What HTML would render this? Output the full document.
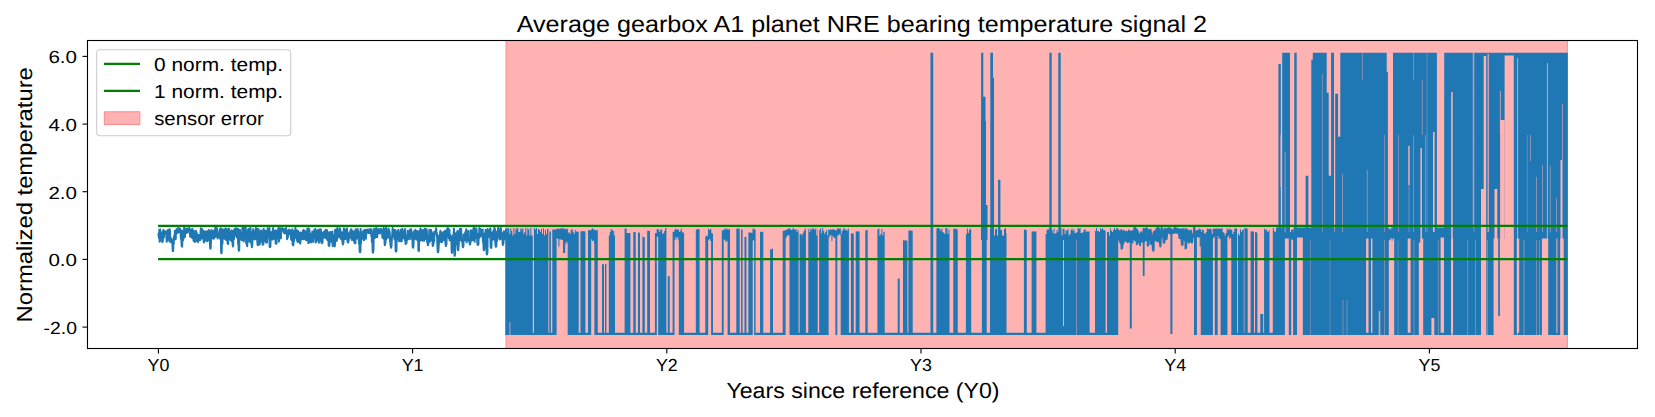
<!DOCTYPE html>
<html><head><meta charset="utf-8"><title>chart</title>
<style>html,body{margin:0;padding:0;background:#fff;}svg{display:block;}text{font-family:"Liberation Sans",sans-serif;fill:#000;text-rendering:geometricPrecision;}</style></head><body>
<svg width="1655" height="417" viewBox="0 0 1655 417">
<rect width="1655" height="417" fill="#fff"/>
<rect x="506" y="40.5" width="1061.8" height="308" fill="#ffb2b2"/>
<rect x="505.5" y="40.5" width="1" height="308" fill="#ff8f8f"/>
<rect x="1566.9" y="40.5" width="1" height="308" fill="#ff8f8f"/>
<path d="M158.40,233.2 L158.65,234.9 L158.90,237.7 L159.15,232.3 L159.40,229.9 L159.65,241.7 L159.90,229.5 L160.15,229.3 L160.40,235.5 L160.65,235.4 L160.90,234.1 L161.15,240.3 L161.40,232.9 L161.65,232.5 L161.90,240.1 L162.15,241.8 L162.40,241 L162.65,241.8 L162.90,239 L163.15,230.5 L163.40,230.1 L163.65,231 L163.90,237.5 L164.15,233.1 L164.40,231.9 L164.65,232.6 L164.90,233.4 L165.15,233.6 L165.40,231.2 L165.65,233.1 L165.90,233.9 L166.15,232.1 L166.40,235 L166.65,241.8 L166.90,231.4 L167.15,240.3 L167.40,238.3 L167.65,231.2 L167.90,235 L168.15,229.8 L168.40,232.8 L168.65,236.7 L168.90,230 L169.15,236.3 L169.40,241.1 L169.65,229.2 L169.90,231.1 L170.15,236.5 L170.40,241.7 L170.65,238.4 L170.90,242.1 L171.15,241.1 L171.40,238.9 L171.65,242.2 L171.90,241.4 L172.15,240.3 L172.40,241.8 L172.65,249.4 L172.90,251 L173.15,250.4 L173.40,241.4 L173.65,244.1 L173.90,237.1 L174.15,239.1 L174.40,235.7 L174.65,237.1 L174.90,230.8 L175.15,237.8 L175.40,236 L175.65,239.2 L175.90,233.1 L176.15,233 L176.40,229.7 L176.65,230.7 L176.90,233.2 L177.15,228.9 L177.40,230.3 L177.65,230.7 L177.90,230.5 L178.15,228.2 L178.40,231.1 L178.65,232.4 L178.90,228.1 L179.15,229.3 L179.40,230.5 L179.65,231.6 L179.90,229.1 L180.15,229 L180.40,229 L180.65,232.7 L180.90,237.6 L181.15,239.3 L181.40,239.5 L181.65,245.3 L181.90,246.3 L182.15,246.6 L182.40,230.9 L182.65,240.7 L182.90,240.5 L183.15,240 L183.40,237.7 L183.65,230.8 L183.90,236.6 L184.15,227.9 L184.40,229.8 L184.65,237.2 L184.90,236.6 L185.15,231.8 L185.40,228.5 L185.65,230.9 L185.90,230.9 L186.15,231.1 L186.40,233 L186.65,232.7 L186.90,229.1 L187.15,230.8 L187.40,230.8 L187.65,232.4 L187.90,228.4 L188.15,230.3 L188.40,230.6 L188.65,230.4 L188.90,229.7 L189.15,231.4 L189.40,228.1 L189.65,229.2 L189.90,231.4 L190.15,236.6 L190.40,230.5 L190.65,233.9 L190.90,230.1 L191.15,236.3 L191.40,235.6 L191.65,230.4 L191.90,231.4 L192.15,237.9 L192.40,228.7 L192.65,238 L192.90,234.2 L193.15,230.7 L193.40,238.3 L193.65,240.8 L193.90,235.5 L194.15,232 L194.40,237.8 L194.65,231.5 L194.90,241.9 L195.15,231.1 L195.40,240.5 L195.65,237.1 L195.90,230.7 L196.15,240.6 L196.40,235.3 L196.65,232.7 L196.90,240.3 L197.15,240.8 L197.40,235.9 L197.65,241.5 L197.90,242.1 L198.15,241 L198.40,240.3 L198.65,234.9 L198.90,235.5 L199.15,239 L199.40,237.2 L199.65,236.8 L199.90,240.3 L200.15,236.4 L200.40,239.7 L200.65,231.4 L200.90,228.2 L201.15,238.3 L201.40,233.6 L201.65,234.4 L201.90,236.1 L202.15,229.4 L202.40,234 L202.65,238.3 L202.90,231.2 L203.15,235.6 L203.40,230.9 L203.65,240.1 L203.90,242.4 L204.15,240.1 L204.40,240.5 L204.65,235.1 L204.90,241 L205.15,235.1 L205.40,231.6 L205.65,235.5 L205.90,231.4 L206.15,238.1 L206.40,234.5 L206.65,235.9 L206.90,233.5 L207.15,241.3 L207.40,233.7 L207.65,236.4 L207.90,231 L208.15,240.2 L208.40,233 L208.65,236.2 L208.90,230.1 L209.15,236.1 L209.40,231.5 L209.65,239.4 L209.90,241.9 L210.15,247 L210.40,248.6 L210.65,248 L210.90,242.3 L211.15,235.8 L211.40,230.1 L211.65,236 L211.90,237.7 L212.15,230.9 L212.40,237 L212.65,231.4 L212.90,232.8 L213.15,237.4 L213.40,238.7 L213.65,236.9 L213.90,238.4 L214.15,230.5 L214.40,232.1 L214.65,230.1 L214.90,237.1 L215.15,228.7 L215.40,227.7 L215.65,233.2 L215.90,236.4 L216.15,233.2 L216.40,235.7 L216.65,227.7 L216.90,234.5 L217.15,229.2 L217.40,231.5 L217.65,238.4 L217.90,235.4 L218.15,237.8 L218.40,237 L218.65,237.4 L218.90,234.8 L219.15,237.3 L219.40,236.1 L219.65,231.9 L219.90,231.2 L220.15,228.7 L220.40,239.2 L220.65,229.2 L220.90,228.2 L221.15,251.8 L221.40,253.1 L221.65,252.2 L221.90,235.1 L222.15,244.1 L222.40,243.4 L222.65,235.7 L222.90,229.3 L223.15,238.3 L223.40,231.3 L223.65,236.5 L223.90,232.9 L224.15,237.2 L224.40,232.1 L224.65,238.6 L224.90,230.5 L225.15,229 L225.40,237.7 L225.65,228.3 L225.90,233.2 L226.15,239.9 L226.40,237 L226.65,238 L226.90,234.5 L227.15,230.4 L227.40,229.6 L227.65,243.5 L227.90,243.3 L228.15,244 L228.40,228.7 L228.65,238.4 L228.90,228.5 L229.15,238.9 L229.40,233.8 L229.65,233.5 L229.90,232.5 L230.15,238.7 L230.40,237.9 L230.65,240.2 L230.90,238.5 L231.15,232.4 L231.40,230.3 L231.65,231.6 L231.90,241.3 L232.15,236.5 L232.40,234.8 L232.65,244.4 L232.90,246.4 L233.15,245.4 L233.40,234.3 L233.65,230.3 L233.90,239.3 L234.15,230.7 L234.40,233.1 L234.65,229.3 L234.90,236 L235.15,228.9 L235.40,228.4 L235.65,234.2 L235.90,231.5 L236.15,228.2 L236.40,233.8 L236.65,234 L236.90,237.1 L237.15,229.9 L237.40,231.5 L237.65,238.3 L237.90,228.8 L238.15,244.2 L238.40,241.2 L238.65,249.6 L238.90,250.7 L239.15,250.4 L239.40,233.1 L239.65,233.7 L239.90,229.8 L240.15,236.2 L240.40,237 L240.65,238.1 L240.90,239.2 L241.15,233.2 L241.40,234.3 L241.65,239.9 L241.90,239.9 L242.15,235.7 L242.40,228 L242.65,233.2 L242.90,236.8 L243.15,230.2 L243.40,227.7 L243.65,241.5 L243.90,238.6 L244.15,237.6 L244.40,238.2 L244.65,234.5 L244.90,231.1 L245.15,227.7 L245.40,232.9 L245.65,227.8 L245.90,235.7 L246.15,243 L246.40,242.2 L246.65,244.2 L246.90,244.4 L247.15,246.1 L247.40,242.6 L247.65,230.5 L247.90,241.7 L248.15,230.3 L248.40,229 L248.65,231.2 L248.90,230.2 L249.15,238.2 L249.40,235.2 L249.65,231.7 L249.90,237.5 L250.15,242.2 L250.40,227.7 L250.65,231.6 L250.90,231.7 L251.15,232.1 L251.40,242.4 L251.65,245 L251.90,247.2 L252.15,245.4 L252.40,239.2 L252.65,235.7 L252.90,234.6 L253.15,229.2 L253.40,230.3 L253.65,238 L253.90,234.1 L254.15,235.1 L254.40,237.1 L254.65,239.5 L254.90,234.7 L255.15,231.2 L255.40,235.8 L255.65,239 L255.90,228 L256.15,236.9 L256.40,228.6 L256.65,229.8 L256.90,239.7 L257.15,228.7 L257.40,242.3 L257.65,245 L257.90,244.8 L258.15,245 L258.40,243.4 L258.65,229.3 L258.90,233 L259.15,237.7 L259.40,234.8 L259.65,244.4 L259.90,239.3 L260.15,234.5 L260.40,242.1 L260.65,233.7 L260.90,231.4 L261.15,230.4 L261.40,230.6 L261.65,231.9 L261.90,239.3 L262.15,232.9 L262.40,232.2 L262.65,244.4 L262.90,244.6 L263.15,244.3 L263.40,244.4 L263.65,228.8 L263.90,241.2 L264.15,240.1 L264.40,232 L264.65,238.4 L264.90,236.9 L265.15,239.3 L265.40,230.9 L265.65,233.7 L265.90,242.1 L266.15,233 L266.40,238.8 L266.65,240.7 L266.90,242.7 L267.15,239.2 L267.40,231.7 L267.65,228.4 L267.90,232.3 L268.15,234.3 L268.40,234 L268.65,237.3 L268.90,233.7 L269.15,236.5 L269.40,228 L269.65,246.2 L269.90,247.1 L270.15,246.9 L270.40,246.1 L270.65,232.3 L270.90,237 L271.15,233 L271.40,235.8 L271.65,232.6 L271.90,239.5 L272.15,238 L272.40,231 L272.65,239.4 L272.90,236 L273.15,228 L273.40,233.5 L273.65,234.1 L273.90,238.8 L274.15,230.8 L274.40,235.6 L274.65,238.6 L274.90,233.5 L275.15,232.2 L275.40,230.5 L275.65,243.4 L275.90,243.2 L276.15,243.2 L276.40,243.7 L276.65,230.6 L276.90,232.1 L277.15,237.9 L277.40,236.2 L277.65,232.1 L277.90,235 L278.15,235.7 L278.40,228 L278.65,234.7 L278.90,241.6 L279.15,228.8 L279.40,231.9 L279.65,238.7 L279.90,228 L280.15,236.8 L280.40,228.4 L280.65,234 L280.90,238.1 L281.15,230.2 L281.40,230.1 L281.65,231 L281.90,228.6 L282.15,229.4 L282.40,228.1 L282.65,228.8 L282.90,230.7 L283.15,229.4 L283.40,229.7 L283.65,229 L283.90,232.8 L284.15,230.3 L284.40,231 L284.65,231.4 L284.90,233.5 L285.15,232.6 L285.40,228.7 L285.65,230 L285.90,228.1 L286.15,233.3 L286.40,232.4 L286.65,230.2 L286.90,233.4 L287.15,239.1 L287.40,237.9 L287.65,230.9 L287.90,237 L288.15,235.3 L288.40,231.2 L288.65,231.7 L288.90,234.4 L289.15,229.5 L289.40,232.9 L289.65,234.1 L289.90,230.1 L290.15,232.2 L290.40,233.5 L290.65,230.6 L290.90,230.6 L291.15,239.4 L291.40,239.8 L291.65,235.8 L291.90,235.4 L292.15,239.9 L292.40,229.4 L292.65,244.6 L292.90,244.9 L293.15,245.3 L293.40,244.3 L293.65,236.4 L293.90,241.5 L294.15,231 L294.40,237.5 L294.65,238.7 L294.90,234.5 L295.15,236.9 L295.40,227.8 L295.65,235.3 L295.90,233.2 L296.15,230.2 L296.40,234.4 L296.65,234.5 L296.90,237.9 L297.15,240.6 L297.40,230.6 L297.65,242 L297.90,233.8 L298.15,236.3 L298.40,231.4 L298.65,239.5 L298.90,233.9 L299.15,232.9 L299.40,237.8 L299.65,242.2 L299.90,242.3 L300.15,243.4 L300.40,242.8 L300.65,232.5 L300.90,235.7 L301.15,237.7 L301.40,238.7 L301.65,236.2 L301.90,238.4 L302.15,238.9 L302.40,232.9 L302.65,235 L302.90,230.9 L303.15,239.3 L303.40,230.4 L303.65,229.9 L303.90,232.8 L304.15,238.7 L304.40,238.7 L304.65,231.8 L304.90,231 L305.15,239.2 L305.40,232.8 L305.65,232.3 L305.90,240 L306.15,232.2 L306.40,240.1 L306.65,232.8 L306.90,238.7 L307.15,231.7 L307.40,228.6 L307.65,236 L307.90,237.4 L308.15,236.4 L308.40,243.3 L308.65,228.2 L308.90,228.8 L309.15,231.8 L309.40,229.6 L309.65,241.8 L309.90,242.1 L310.15,241.5 L310.40,242.2 L310.65,239.4 L310.90,233.9 L311.15,240.6 L311.40,242.2 L311.65,238.9 L311.90,234.6 L312.15,238.6 L312.40,231.6 L312.65,231.6 L312.90,238.6 L313.15,241.7 L313.40,234.2 L313.65,238.1 L313.90,234.7 L314.15,234.6 L314.40,229.8 L314.65,235.8 L314.90,233.2 L315.15,234.8 L315.40,229 L315.65,242.5 L315.90,242 L316.15,241.9 L316.40,241.4 L316.65,236.7 L316.90,233.3 L317.15,239.6 L317.40,232.2 L317.65,230.2 L317.90,234 L318.15,239.6 L318.40,230.2 L318.65,236.1 L318.90,242.8 L319.15,229.5 L319.40,241.4 L319.65,229.5 L319.90,233.3 L320.15,233.4 L320.40,229.3 L320.65,239 L320.90,229.8 L321.15,240.4 L321.40,233.1 L321.65,243.1 L321.90,242.1 L322.15,242.9 L322.40,242.8 L322.65,238.6 L322.90,235.3 L323.15,232.3 L323.40,234.7 L323.65,235.8 L323.90,234.9 L324.15,232.5 L324.40,237.3 L324.65,231.1 L324.90,237.7 L325.15,236.8 L325.40,233.3 L325.65,230 L325.90,237.7 L326.15,236.3 L326.40,238.4 L326.65,236.6 L326.90,230 L327.15,235.7 L327.40,239.9 L327.65,237.9 L327.90,232 L328.15,238.8 L328.40,233.2 L328.65,245.2 L328.90,245.7 L329.15,246 L329.40,245.3 L329.65,237.4 L329.90,241 L330.15,232.1 L330.40,239.7 L330.65,235.9 L330.90,235.7 L331.15,234.3 L331.40,241.6 L331.65,232.1 L331.90,232.7 L332.15,234.6 L332.40,231.5 L332.65,245.9 L332.90,236.2 L333.15,235.1 L333.40,235 L333.65,238.4 L333.90,236 L334.15,245.3 L334.40,245.3 L334.65,246.4 L334.90,244.9 L335.15,229.8 L335.40,236.7 L335.65,240.1 L335.90,229.6 L336.15,240.1 L336.40,240.9 L336.65,236.4 L336.90,240.4 L337.15,238.4 L337.40,227.9 L337.65,231.3 L337.90,235.8 L338.15,230.1 L338.40,230.6 L338.65,237 L338.90,230.4 L339.15,230.7 L339.40,231.6 L339.65,236.6 L339.90,228.2 L340.15,229.5 L340.40,231.3 L340.65,238.6 L340.90,237.7 L341.15,232.1 L341.40,235.4 L341.65,233.5 L341.90,232.4 L342.15,239.9 L342.40,241.6 L342.65,242.5 L342.90,244.4 L343.15,242.3 L343.40,243.1 L343.65,232.4 L343.90,228.2 L344.15,231.9 L344.40,229.6 L344.65,234.9 L344.90,239 L345.15,229.8 L345.40,238.9 L345.65,229.8 L345.90,237.2 L346.15,233.8 L346.40,229.7 L346.65,238.8 L346.90,228.4 L347.15,230.1 L347.40,239.6 L347.65,242 L347.90,241.1 L348.15,242.5 L348.40,241.4 L348.65,239.8 L348.90,233.2 L349.15,238.3 L349.40,238 L349.65,234.8 L349.90,237.8 L350.15,236 L350.40,230.7 L350.65,234.8 L350.90,236 L351.15,229.4 L351.40,236.6 L351.65,229.9 L351.90,240 L352.15,233.5 L352.40,239.1 L352.65,232.5 L352.90,236.6 L353.15,235.3 L353.40,234.9 L353.65,231.2 L353.90,241 L354.15,238.3 L354.40,239.8 L354.65,243.1 L354.90,242.1 L355.15,242.8 L355.40,243.1 L355.65,229.3 L355.90,239.2 L356.15,230.3 L356.40,235.4 L356.65,235.8 L356.90,237.7 L357.15,235.4 L357.40,233.8 L357.65,229 L357.90,237.3 L358.15,238.5 L358.40,231.6 L358.65,237.6 L358.90,241.1 L359.15,244.2 L359.40,234.6 L359.65,250.6 L359.90,252 L360.15,252 L360.40,250.7 L360.65,229.1 L360.90,243.6 L361.15,233.9 L361.40,239.8 L361.65,233.6 L361.90,235.8 L362.15,238.1 L362.40,233.6 L362.65,237.3 L362.90,231.5 L363.15,237.2 L363.40,236.6 L363.65,234.1 L363.90,240.1 L364.15,230.4 L364.40,230.8 L364.65,237.1 L364.90,238.2 L365.15,229.7 L365.40,234.8 L365.65,234.1 L365.90,238.8 L366.15,231.2 L366.40,229.7 L366.65,232.8 L366.90,232.9 L367.15,232.4 L367.40,230.4 L367.65,229.7 L367.90,232.3 L368.15,230.6 L368.40,232.9 L368.65,232.3 L368.90,229.6 L369.15,233.2 L369.40,231.6 L369.65,232.2 L369.90,231.9 L370.15,232.2 L370.40,230.2 L370.65,229.1 L370.90,232.5 L371.15,232.4 L371.40,236.1 L371.65,229.8 L371.90,242.1 L372.15,240.9 L372.40,232.3 L372.65,250.6 L372.90,252.7 L373.15,251.4 L373.40,250.2 L373.65,237.6 L373.90,233.7 L374.15,228.8 L374.40,237.7 L374.65,231.8 L374.90,237.9 L375.15,232.3 L375.40,231.5 L375.65,229.4 L375.90,234.6 L376.15,228 L376.40,236.8 L376.65,231.3 L376.90,231.4 L377.15,237.3 L377.40,229.4 L377.65,234.1 L377.90,232.9 L378.15,232.6 L378.40,230 L378.65,229.2 L378.90,230 L379.15,232 L379.40,232.6 L379.65,231.2 L379.90,233.4 L380.15,232.7 L380.40,229 L380.65,231.7 L380.90,229.6 L381.15,230 L381.40,229.4 L381.65,231.3 L381.90,230.6 L382.15,232.8 L382.40,237.7 L382.65,235 L382.90,234.1 L383.15,235.1 L383.40,229.1 L383.65,228 L383.90,230.2 L384.15,239.1 L384.40,234.1 L384.65,243.6 L384.90,245.1 L385.15,243.5 L385.40,243.3 L385.65,235.2 L385.90,227.9 L386.15,232.5 L386.40,239.1 L386.65,236.8 L386.90,232.6 L387.15,234.9 L387.40,231 L387.65,235.3 L387.90,230.6 L388.15,237.4 L388.40,228.6 L388.65,231.8 L388.90,229.6 L389.15,230.3 L389.40,233.9 L389.65,232.1 L389.90,236.3 L390.15,241.9 L390.40,242 L390.65,246.3 L390.90,246.5 L391.15,247.7 L391.40,246 L391.65,242 L391.90,237.5 L392.15,236.9 L392.40,232.2 L392.65,228.1 L392.90,233.2 L393.15,236.6 L393.40,235.6 L393.65,236.2 L393.90,230.1 L394.15,229.8 L394.40,237.2 L394.65,239.4 L394.90,231.7 L395.15,230.1 L395.40,232 L395.65,250.6 L395.90,251.6 L396.15,251.2 L396.40,250.8 L396.65,236.9 L396.90,236.2 L397.15,231.9 L397.40,231 L397.65,237.6 L397.90,231.3 L398.15,238.7 L398.40,229.7 L398.65,233.4 L398.90,241 L399.15,233.4 L399.40,241.1 L399.65,238.9 L399.90,238.8 L400.15,239.3 L400.40,241.2 L400.65,234.2 L400.90,229.7 L401.15,232.2 L401.40,233.8 L401.65,241.1 L401.90,231.2 L402.15,231.8 L402.40,228.8 L402.65,231.9 L402.90,238.1 L403.15,235.1 L403.40,234.1 L403.65,232.6 L403.90,235.9 L404.15,238 L404.40,230.7 L404.65,231.3 L404.90,240.3 L405.15,229 L405.40,238.2 L405.65,244 L405.90,243.1 L406.15,243.1 L406.40,243.1 L406.65,240.1 L406.90,237.7 L407.15,235.4 L407.40,239.6 L407.65,236.7 L407.90,230.9 L408.15,232.8 L408.40,234 L408.65,238.8 L408.90,233.1 L409.15,231.4 L409.40,233.1 L409.65,239.3 L409.90,235.9 L410.15,229.6 L410.40,232.6 L410.65,232.1 L410.90,236.1 L411.15,229.4 L411.40,236.7 L411.65,233.3 L411.90,232.1 L412.15,239.4 L412.40,235.7 L412.65,246.3 L412.90,247.1 L413.15,247.7 L413.40,246.1 L413.65,238.4 L413.90,239.6 L414.15,231.6 L414.40,231 L414.65,231.5 L414.90,232.2 L415.15,237.4 L415.40,229.9 L415.65,238.2 L415.90,231.8 L416.15,239.4 L416.40,234.6 L416.65,236.6 L416.90,231.5 L417.15,231.1 L417.40,231.3 L417.65,240.1 L417.90,234.1 L418.15,231.8 L418.40,250 L418.65,250.9 L418.90,250.9 L419.15,232.9 L419.40,234.1 L419.65,230.5 L419.90,237.2 L420.15,240.7 L420.40,228.6 L420.65,235.4 L420.90,232.5 L421.15,234 L421.40,239.8 L421.65,230.5 L421.90,230.1 L422.15,233.7 L422.40,240.6 L422.65,240.2 L422.90,238.5 L423.15,236.1 L423.40,237.4 L423.65,238.9 L423.90,229.8 L424.15,240.7 L424.40,235.6 L424.65,238.7 L424.90,228.5 L425.15,230.6 L425.40,238.9 L425.65,237.4 L425.90,234.2 L426.15,237.2 L426.40,235.6 L426.65,229.2 L426.90,232.1 L427.15,241.9 L427.40,242 L427.65,243.1 L427.90,245.2 L428.15,243.3 L428.40,243.6 L428.65,236 L428.90,235.4 L429.15,238.6 L429.40,229.9 L429.65,234.3 L429.90,241.6 L430.15,230.2 L430.40,231.2 L430.65,240.2 L430.90,229.7 L431.15,232.4 L431.40,231.6 L431.65,237.7 L431.90,232.6 L432.15,239 L432.40,237.1 L432.65,244.8 L432.90,245.9 L433.15,244.6 L433.40,244.1 L433.65,241.3 L433.90,233.2 L434.15,241.1 L434.40,231.5 L434.65,232.1 L434.90,233 L435.15,233.1 L435.40,233.2 L435.65,232.2 L435.90,231.3 L436.15,228.2 L436.40,232.2 L436.65,234.2 L436.90,236 L437.15,233.9 L437.40,244.4 L437.65,250.5 L437.90,252.1 L438.15,252.1 L438.40,250.2 L438.65,245.2 L438.90,243.5 L439.15,235.7 L439.40,237.5 L439.65,240 L439.90,240.2 L440.15,232.7 L440.40,230.7 L440.65,236.8 L440.90,232 L441.15,242.1 L441.40,239.1 L441.65,235.2 L441.90,237.6 L442.15,241.9 L442.40,234.1 L442.65,238.2 L442.90,233.6 L443.15,232.2 L443.40,232.6 L443.65,239 L443.90,239.9 L444.15,234 L444.40,231.5 L444.65,235.4 L444.90,240 L445.15,230.9 L445.40,241.1 L445.65,244.7 L445.90,246 L446.15,244.1 L446.40,244.5 L446.65,235.5 L446.90,233.6 L447.15,228.9 L447.40,234.5 L447.65,233.8 L447.90,228 L448.15,230.3 L448.40,236 L448.65,236.2 L448.90,238 L449.15,233.4 L449.40,229.5 L449.65,240.2 L449.90,240.4 L450.15,240 L450.40,235.6 L450.65,235.4 L450.90,236.8 L451.15,238 L451.40,237.3 L451.65,250.7 L451.90,252.9 L452.15,251.4 L452.40,250.5 L452.65,239.4 L452.90,244 L453.15,235.1 L453.40,239.2 L453.65,235.5 L453.90,228.6 L454.15,233.8 L454.40,253.5 L454.65,255.8 L454.90,254.4 L455.15,245.9 L455.40,240.1 L455.65,244.4 L455.90,233.3 L456.15,236.3 L456.40,235.5 L456.65,236.6 L456.90,241.1 L457.15,241.4 L457.40,231 L457.65,249 L457.90,249.1 L458.15,250.3 L458.40,249 L458.65,244.6 L458.90,238.9 L459.15,238.1 L459.40,230.5 L459.65,237.9 L459.90,228.8 L460.15,240.3 L460.40,230.2 L460.65,238 L460.90,231.3 L461.15,228.7 L461.40,239.5 L461.65,238 L461.90,241.5 L462.15,238.2 L462.40,240 L462.65,246.1 L462.90,247.2 L463.15,246.7 L463.40,246 L463.65,234.5 L463.90,235.1 L464.15,237.8 L464.40,235.6 L464.65,233.6 L464.90,240.1 L465.15,238.3 L465.40,232.1 L465.65,233.9 L465.90,236.4 L466.15,229.2 L466.40,240.3 L466.65,242.3 L466.90,233.1 L467.15,232.3 L467.40,232.5 L467.65,231.8 L467.90,240.3 L468.15,232.5 L468.40,230.9 L468.65,239 L468.90,240.9 L469.15,239.7 L469.40,239.3 L469.65,243.3 L469.90,244.5 L470.15,244 L470.40,242.1 L470.65,241.8 L470.90,230.4 L471.15,230.5 L471.40,239 L471.65,234.4 L471.90,234.8 L472.15,235.6 L472.40,235.3 L472.65,240.2 L472.90,231 L473.15,238.6 L473.40,228.2 L473.65,232.5 L473.90,231.2 L474.15,233.4 L474.40,227.7 L474.65,241.8 L474.90,230.4 L475.15,238.7 L475.40,231.1 L475.65,230.3 L475.90,232.1 L476.15,234.4 L476.40,228.6 L476.65,232 L476.90,238.2 L477.15,233.9 L477.40,243.1 L477.65,244.8 L477.90,244.9 L478.15,244.5 L478.40,244.1 L478.65,233.9 L478.90,236 L479.15,235.8 L479.40,228 L479.65,237.4 L479.90,233.4 L480.15,229.2 L480.40,230.6 L480.65,229.4 L480.90,235.6 L481.15,235.7 L481.40,233 L481.65,230.1 L481.90,235 L482.15,236.2 L482.40,235.8 L482.65,229.6 L482.90,241.7 L483.15,234.4 L483.40,241.4 L483.65,248.8 L483.90,250.3 L484.15,250.1 L484.40,248.5 L484.65,245.4 L484.90,233.2 L485.15,239.7 L485.40,234.3 L485.65,229.8 L485.90,241.5 L486.15,239.6 L486.40,237.3 L486.65,252.9 L486.90,254.4 L487.15,253.4 L487.40,252 L487.65,229.1 L487.90,230.5 L488.15,233.8 L488.40,234.4 L488.65,236.9 L488.90,234.1 L489.15,230.2 L489.40,230.1 L489.65,229.9 L489.90,235.2 L490.15,235.7 L490.40,228.2 L490.65,247 L490.90,247.1 L491.15,247.9 L491.40,247 L491.65,233.3 L491.90,240.4 L492.15,239.5 L492.40,232.5 L492.65,237.9 L492.90,236.4 L493.15,233.9 L493.40,233.3 L493.65,230.2 L493.90,239.5 L494.15,238.9 L494.40,227.7 L494.65,228.1 L494.90,229.8 L495.15,238.8 L495.40,243.9 L495.65,245.3 L495.90,246.8 L496.15,246.6 L496.40,245.1 L496.65,231.8 L496.90,241.2 L497.15,237.4 L497.40,235.2 L497.65,235.6 L497.90,231.8 L498.15,227.8 L498.40,236.1 L498.65,232.2 L498.90,235.7 L499.15,237.7 L499.40,231 L499.65,239.5 L499.90,234.7 L500.15,229.9 L500.40,239.2 L500.65,227.7 L500.90,228.5 L501.15,236.2 L501.40,236.7 L501.65,233 L501.90,233.8 L502.15,233.7 L502.40,233.3 L502.65,243.6 L502.90,244.9 L503.15,244.2 L503.40,243.2 L503.65,235.6 L503.90,231.2 L504.15,238.3 L504.40,231.8 L504.65,236.4 L504.90,239.2 L505.15,232 L505.40,231.6 L505.65,232.9 L505.90,232.4 L506.15,228.4" fill="none" stroke="#1f77b4" stroke-width="2.1" stroke-linejoin="round"/>
<path d="M1117.60,240.2 L1117.85,239.4 L1118.10,236.8 L1118.35,230.3 L1118.60,235.6 L1118.85,232.8 L1119.10,239.4 L1119.35,236.7 L1119.60,231.7 L1119.85,241.2 L1120.10,237.5 L1120.35,232.2 L1120.60,243.2 L1120.85,234.9 L1121.10,234.2 L1121.35,230 L1121.60,248.6 L1121.85,248.3 L1122.10,248 L1122.35,244.5 L1122.60,238.1 L1122.85,232.6 L1123.10,243.7 L1123.35,234.9 L1123.60,231 L1123.85,241.7 L1124.10,231.3 L1124.35,238.8 L1124.60,238.2 L1124.85,234.5 L1125.10,240.1 L1125.35,232.4 L1125.60,237.5 L1125.85,240.6 L1126.10,232.7 L1126.35,231.7 L1126.60,240.8 L1126.85,239.3 L1127.10,232.2 L1127.35,234 L1127.60,242.1 L1127.85,235.6 L1128.10,234.3 L1128.35,233.4 L1128.60,236.7 L1128.85,230.5 L1129.10,234.4 L1129.35,241.5 L1129.60,235.1 L1129.85,233.1 L1130.10,232.4 L1130.35,237.8 L1130.60,231.9 L1130.85,235.1 L1131.10,233.8 L1131.35,238.9 L1131.60,241.2 L1131.85,242.4 L1132.10,231.2 L1132.35,242.5 L1132.60,238.6 L1132.85,239.6 L1133.10,236.7 L1133.35,236.6 L1133.60,233.9 L1133.85,230.6 L1134.10,231.3 L1134.35,228.6 L1134.60,227.7 L1134.85,232.9 L1135.10,240.2 L1135.35,231.5 L1135.60,232.1 L1135.85,228.7 L1136.10,240.8 L1136.35,233.3 L1136.60,229.6 L1136.85,244.2 L1137.10,243.9 L1137.35,243 L1137.60,230.7 L1137.85,242.3 L1138.10,233 L1138.35,234.8 L1138.60,234.2 L1138.85,237.3 L1139.10,236.8 L1139.35,236.8 L1139.60,234.6 L1139.85,243 L1140.10,245.1 L1140.35,234.8 L1140.60,235.3 L1140.85,238.2 L1141.10,232.3 L1141.35,234.3 L1141.60,237.2 L1141.85,234.6 L1142.10,237 L1142.35,241.6 L1142.60,234.8 L1142.85,239 L1143.10,233.8 L1143.35,240.4 L1143.60,229 L1143.85,238.9 L1144.10,241.7 L1144.35,235.6 L1144.60,230.2 L1144.85,239.9 L1145.10,240.1 L1145.35,229 L1145.60,238.8 L1145.85,231.2 L1146.10,228.5 L1146.35,240.1 L1146.60,229.6 L1146.85,228.6 L1147.10,229.3 L1147.35,239.9 L1147.60,234 L1147.85,245 L1148.10,245.7 L1148.35,244.6 L1148.60,237.6 L1148.85,236.3 L1149.10,230.2 L1149.35,234.7 L1149.60,238.9 L1149.85,238.7 L1150.10,232.6 L1150.35,236.4 L1150.60,229.8 L1150.85,243.8 L1151.10,243.9 L1151.35,241.3 L1151.60,233.2 L1151.85,239.3 L1152.10,242.2 L1152.35,242.2 L1152.60,239.7 L1152.85,249.6 L1153.10,250.1 L1153.35,250.7 L1153.60,249.1 L1153.85,236.8 L1154.10,231.6 L1154.35,235 L1154.60,233.6 L1154.85,233.5 L1155.10,236.6 L1155.35,240.2 L1155.60,231.4 L1155.85,233.4 L1156.10,231.6 L1156.35,229.3 L1156.60,231.5 L1156.85,232.1 L1157.10,231.5 L1157.35,241.1 L1157.60,227.7 L1157.85,238.2 L1158.10,241.4 L1158.35,232.2 L1158.60,234.7 L1158.85,228.5 L1159.10,228.7 L1159.35,234.1 L1159.60,231.7 L1159.85,234.6 L1160.10,244.1 L1160.35,246.5 L1160.60,244 L1160.85,235.4 L1161.10,238.4 L1161.35,231.2 L1161.60,228 L1161.85,228.1 L1162.10,229 L1162.35,229.5 L1162.60,230.3 L1162.85,236.3 L1163.10,232.8 L1163.35,233.9 L1163.60,240.9 L1163.85,242.8 L1164.10,242.7 L1164.35,242.2 L1164.60,233.4 L1164.85,228.8 L1165.10,231.8 L1165.35,238.1 L1165.60,230.2 L1165.85,239.2 L1166.10,234.7 L1166.35,233.2 L1166.60,238.8 L1166.85,236.4 L1167.10,233.2 L1167.35,228.7 L1167.60,230.4 L1167.85,232.2 L1168.10,231.3 L1168.35,232.5 L1168.60,228.2 L1168.85,230.7 L1169.10,229.5 L1169.35,231.1 L1169.60,229.9 L1169.85,233.4 L1170.10,230.2 L1170.35,232.6 L1170.60,228.5 L1170.85,233 L1171.10,231.8 L1171.35,231.4 L1171.60,231.2 L1171.85,230.1 L1172.10,230.1 L1172.35,231.9 L1172.60,233.1 L1172.85,231.7 L1173.10,231.3 L1173.35,230.9 L1173.60,230 L1173.85,232.2 L1174.10,229.5 L1174.35,228.4 L1174.60,232.9 L1174.85,232.6 L1175.10,230.8 L1175.35,229.3 L1175.60,228 L1175.85,229 L1176.10,231.4 L1176.35,228.6 L1176.60,230.1 L1176.85,229.2 L1177.10,232.9 L1177.35,231.5 L1177.60,231.1 L1177.85,232.8 L1178.10,230.9 L1178.35,229.7 L1178.60,229 L1178.85,231.1 L1179.10,235 L1179.35,236.1 L1179.60,238 L1179.85,231.6 L1180.10,231.1 L1180.35,238 L1180.60,229.5 L1180.85,229.6 L1181.10,236.9 L1181.35,238.9 L1181.60,237.2 L1181.85,243.6 L1182.10,244.4 L1182.35,245 L1182.60,243.9 L1182.85,229.1 L1183.10,234.1 L1183.35,239.3 L1183.60,231.6 L1183.85,234.3 L1184.10,232.7 L1184.35,234.9 L1184.60,232.1 L1184.85,240.2 L1185.10,231.6 L1185.35,229.1 L1185.60,248.4 L1185.85,248 L1186.10,247.5 L1186.35,234.6 L1186.60,234.6 L1186.85,229.7 L1187.10,235.1 L1187.35,234.2 L1187.60,232.1 L1187.85,240.6 L1188.10,238.2 L1188.35,230.9 L1188.60,242.1 L1188.85,242.5 L1189.10,240.6 L1189.35,240.6 L1189.60,232.3 L1189.85,233.6 L1190.10,231.3 L1190.35,235.4 L1190.60,241.1 L1190.85,230.6 L1191.10,232.6 L1191.35,240.9 L1191.60,241.5 L1191.85,242.6 L1192.10,241.5 L1192.35,238.3 L1192.60,234.5 L1192.85,235.8 L1193.10,235.6 L1193.35,234.7 L1193.60,236.7 L1193.85,234.8 L1194.10,227.9 L1194.35,227.8 L1194.60,233.8" fill="none" stroke="#1f77b4" stroke-width="2.1" stroke-linejoin="round"/>
<path d="M505.3,229 L506.3,229 L506.3,232 L507.3,232 L507.3,228 L508.3,228 L508.3,228.5 L509.3,228.5 L509.3,234 L510.3,234 L510.3,228.5 L511.3,228.5 L511.3,231 L512.3,231 L512.3,235.5 L513.3,235.5 L513.3,228 L514.3,228 L514.3,234 L515.3,234 L515.3,229.5 L516.3,229.5 L516.3,228 L517.3,228 L517.3,228.5 L518.3,228.5 L518.3,232 L519.3,232 L519.3,232 L520.3,232 L520.3,228.5 L521.3,228.5 L521.3,229.5 L522.3,229.5 L522.3,228.5 L523.3,228.5 L523.3,234 L524.3,234 L524.3,232 L525.3,232 L525.3,228 L526.3,228 L526.3,235.5 L527.3,235.5 L527.3,228.5 L528.3,228.5 L528.3,229.5 L529.3,229.5 L529.3,235.5 L530.3,235.5 L530.3,228 L531.3,228 L531.3,235.5 L532.3,235.5 L532.3,235.5 L532.8,235.5 L532.8,334.9 L505.3,334.9Z M532.6,332.8 H534.2 V334.9 H532.6 Z M534,228 L535,228 L535,229.5 L536,229.5 L536,228 L537,228 L537,234 L538,234 L538,229 L539,229 L539,230 L540,230 L540,232 L541,232 L541,229 L542,229 L542,234 L543,234 L543,228.5 L544,228.5 L544,235.5 L545,235.5 L545,230 L546,230 L546,234 L547,234 L547,229 L548,229 L548,228.5 L548.4,228.5 L548.4,334.9 L534,334.9Z M548.2,332.8 H549.5 V334.9 H548.2 Z M549.3,231.4 L550.3,231.4 L550.3,231.5 L550.9,231.5 L550.9,334.9 L549.3,334.9Z M550.7,332.8 H552.5 V334.9 H550.7 Z M552.3,229.6 L553.3,229.6 L553.3,229.6 L554.3,229.6 L554.3,229.5 L555.3,229.5 L555.3,229.5 L556.3,229.5 L556.3,229.8 L556.6,229.8 L556.6,334.9 L552.3,334.9Z M556.4,228.9 L557.4,228.9 L557.4,228.3 L558.4,228.3 L558.4,229 L559.4,229 L559.4,228.8 L560.4,228.8 L560.4,228.3 L561.4,228.3 L561.4,228.8 L562.4,228.8 L562.4,228.3 L563.4,228.3 L563.4,228.3 L564.4,228.3 L564.4,229.4 L565.4,229.4 L565.4,228.8 L566.4,228.8 L566.4,229.1 L567.4,229.1 L567.4,228.9 L567.9,228.9 L567.9,243.8 L567.4,243.8 L567.4,241.7 L566.4,241.7 L566.4,243.8 L565.4,243.8 L565.4,241.9 L564.4,241.9 L564.4,242.5 L563.4,242.5 L563.4,240 L562.4,240 L562.4,239.9 L561.4,239.9 L561.4,239.6 L560.4,239.6 L560.4,239.3 L559.4,239.3 L559.4,246.4 L558.4,246.4 L558.4,238.9 L557.4,238.9 L557.4,237.9 L556.4,237.9Z M567.7,233 L568.7,233 L568.7,232 L569.7,232 L569.7,234 L570.7,234 L570.7,230 L571.7,230 L571.7,229 L572.7,229 L572.7,232 L573.7,232 L573.7,234 L574.7,234 L574.7,230 L575.7,230 L575.7,232 L576.7,232 L576.7,231 L577.7,231 L577.7,232 L578.7,232 L578.7,334.9 L567.7,334.9Z M578.5,332.8 H580.7 V334.9 H578.5 Z M580.5,231.2 L581.5,231.2 L581.5,231.2 L582.5,231.2 L582.5,231.2 L583.5,231.2 L583.5,231.2 L584.5,231.2 L584.5,231.5 L585.4,231.5 L585.4,334.9 L580.5,334.9Z M585.2,332.8 H588.2 V334.9 H585.2 Z M588,230.3 L589,230.3 L589,230 L590,230 L590,230.4 L591,230.4 L591,230.4 L591.2,230.4 L591.2,334.9 L588,334.9Z M591,229.4 L592,229.4 L592,228.3 L593,228.3 L593,229.6 L594,229.6 L594,229.3 L594.6,229.3 L594.6,243.5 L594,243.5 L594,240.5 L593,240.5 L593,240.9 L592,240.9 L592,239.2 L591,239.2Z M594.4,230.1 L595.4,230.1 L595.4,230.6 L596.4,230.6 L596.4,230.1 L597.4,230.1 L597.4,230.6 L597.8,230.6 L597.8,334.9 L594.4,334.9Z M597.6,332.8 H602.2 V334.9 H597.6 Z M602,264 L603,264 L603,264.4 L604,264.4 L604,334.9 L602,334.9Z M603.8,332.8 H605.2 V334.9 H603.8 Z M605,264.1 L606,264.1 L606,263.6 L606.4,263.6 L606.4,334.9 L605,334.9Z M606.2,332.8 H609 V334.9 H606.2 Z M608.8,235.5 L609.8,235.5 L609.8,232 L610.8,232 L610.8,229 L611.8,229 L611.8,230 L612.8,230 L612.8,231 L613.8,231 L613.8,235.5 L614.8,235.5 L614.8,231 L615,231 L615,334.9 L608.8,334.9Z M614.8,332.8 H624.8 V334.9 H614.8 Z M624.6,228.5 L625.6,228.5 L625.6,228.5 L626.6,228.5 L626.6,233 L627.6,233 L627.6,233 L628.6,233 L628.6,233 L629.6,233 L629.6,233 L630.4,233 L630.4,334.9 L624.6,334.9Z M630.2,332.8 H633.5 V334.9 H630.2 Z M633.3,232.1 L634.3,232.1 L634.3,232.1 L635.3,232.1 L635.3,232.3 L635.7,232.3 L635.7,334.9 L633.3,334.9Z M635.5,332.8 H638.2 V334.9 H635.5 Z M638,232.5 L639,232.5 L639,232.7 L640,232.7 L640,334.9 L638,334.9Z M639.8,332.8 H642.6 V334.9 H639.8 Z M642.4,236.5 L643.4,236.5 L643.4,237.5 L644.4,237.5 L644.4,237 L644.8,237 L644.8,334.9 L642.4,334.9Z M644.6,332.8 H647.4 V334.9 H644.6 Z M647.2,230.7 L648.2,230.7 L648.2,230.9 L649.2,230.9 L649.2,230.8 L650,230.8 L650,334.9 L647.2,334.9Z M649.8,332.8 H655.1 V334.9 H649.8 Z M654.9,233 L655.9,233 L655.9,232.9 L656.8,232.9 L656.8,334.9 L654.9,334.9Z M656.6,228.9 L657.6,228.9 L657.6,229.6 L658.4,229.6 L658.4,237.2 L657.6,237.2 L657.6,236.6 L656.6,236.6Z M658.2,229.5 L659.2,229.5 L659.2,232 L660.2,232 L660.2,229.5 L661.2,229.5 L661.2,229.5 L662.2,229.5 L662.2,234 L663.2,234 L663.2,233 L664.2,233 L664.2,231 L665.2,231 L665.2,228 L666.2,228 L666.2,228 L666.4,228 L666.4,334.9 L658.2,334.9Z M666.2,332.8 H668 V334.9 H666.2 Z M667.8,276.3 L668.8,276.3 L668.8,276 L669.7,276 L669.7,334.9 L667.8,334.9Z M669.5,332.8 H672.8 V334.9 H669.5 Z M672.6,231.7 L673.6,231.7 L673.6,232 L674.5,232 L674.5,334.9 L672.6,334.9Z M674.3,230 L675.3,230 L675.3,228.6 L676.3,228.6 L676.3,229.8 L677.3,229.8 L677.3,229.6 L678.3,229.6 L678.3,229.6 L679,229.6 L679,240.6 L678.3,240.6 L678.3,237.3 L677.3,237.3 L677.3,239.2 L676.3,239.2 L676.3,236.9 L675.3,236.9 L675.3,240 L674.3,240Z M678.8,232 L679.8,232 L679.8,231 L680.8,231 L680.8,228.5 L681.8,228.5 L681.8,232 L682.8,232 L682.8,233 L683.8,233 L683.8,232 L684.1,232 L684.1,334.9 L678.8,334.9Z M683.9,332.8 H696 V334.9 H683.9 Z M695.8,229.7 L696.8,229.7 L696.8,229.2 L697.8,229.2 L697.8,229.1 L698.8,229.1 L698.8,229.2 L699.6,229.2 L699.6,334.9 L695.8,334.9Z M699.4,332.8 H705.5 V334.9 H699.4 Z M705.3,236.3 L706.3,236.3 L706.3,235.6 L707.3,235.6 L707.3,236.3 L708.2,236.3 L708.2,334.9 L705.3,334.9Z M708,228.8 L709,228.8 L709,229.9 L710,229.9 L710,229 L711,229 L711,228.7 L711.3,228.7 L711.3,238.2 L711,238.2 L711,240.9 L710,240.9 L710,238.9 L709,238.9 L709,240 L708,240Z M711.1,233.3 L712.1,233.3 L712.1,233.4 L713,233.4 L713,334.9 L711.1,334.9Z M712.8,332.8 H722 V334.9 H712.8 Z M721.8,230.1 L722.8,230.1 L722.8,230.7 L723.7,230.7 L723.7,334.9 L721.8,334.9Z M723.5,229.7 L724.5,229.7 L724.5,228.4 L725.5,228.4 L725.5,229.6 L726.5,229.6 L726.5,228.5 L727.5,228.5 L727.5,229.4 L727.8,229.4 L727.8,239.6 L727.5,239.6 L727.5,241.1 L726.5,241.1 L726.5,242.2 L725.5,242.2 L725.5,239.7 L724.5,239.7 L724.5,239.6 L723.5,239.6Z M727.6,229.9 L728.6,229.9 L728.6,229.1 L729.6,229.1 L729.6,229.2 L730,229.2 L730,334.9 L727.6,334.9Z M729.8,332.8 H736.5 V334.9 H729.8 Z M736.3,228.8 L737.3,228.8 L737.3,228.5 L738.3,228.5 L738.3,228.6 L739.3,228.6 L739.3,228.8 L739.7,228.8 L739.7,334.9 L736.3,334.9Z M739.5,332.8 H741.3 V334.9 H739.5 Z M741.1,229.4 L742.1,229.4 L742.1,229.6 L742.6,229.6 L742.6,334.9 L741.1,334.9Z M742.4,332.8 H744.7 V334.9 H742.4 Z M744.5,237.1 L745.5,237.1 L745.5,236.7 L746.4,236.7 L746.4,334.9 L744.5,334.9Z M746.2,332.8 H748.6 V334.9 H746.2 Z M748.4,232.5 L749.4,232.5 L749.4,232.5 L750.4,232.5 L750.4,232.5 L751.4,232.5 L751.4,232.9 L752.4,232.9 L752.4,232.7 L752.7,232.7 L752.7,334.9 L748.4,334.9Z M752.5,228.7 L753.5,228.7 L753.5,228.4 L754.4,228.4 L754.4,240.2 L753.5,240.2 L753.5,240.5 L752.5,240.5Z M754.2,229.7 L755.2,229.7 L755.2,229.4 L755.6,229.4 L755.6,334.9 L754.2,334.9Z M755.4,332.8 H760.2 V334.9 H755.4 Z M760,231.7 L761,231.7 L761,231.8 L762,231.8 L762,231.9 L763,231.9 L763,231.2 L763.3,231.2 L763.3,334.9 L760,334.9Z M763.1,332.8 H770.3 V334.9 H763.1 Z M770.1,249.2 L771.1,249.2 L771.1,249.2 L772.1,249.2 L772.1,248.6 L773,248.6 L773,334.9 L770.1,334.9Z M772.8,332.8 H782.9 V334.9 H772.8 Z M782.7,231 L783.7,231 L783.7,230.2 L784.7,230.2 L784.7,231 L785.6,231 L785.6,334.9 L782.7,334.9Z M785.4,230 L786.4,230 L786.4,229.1 L787.4,229.1 L787.4,229.5 L788.4,229.5 L788.4,228.2 L789.4,228.2 L789.4,228.3 L789.7,228.3 L789.7,237.6 L789.4,237.6 L789.4,235.6 L788.4,235.6 L788.4,234.9 L787.4,234.9 L787.4,236.4 L786.4,236.4 L786.4,238.1 L785.4,238.1Z M789.5,228.5 L790.5,228.5 L790.5,230 L791.5,230 L791.5,230 L792.5,230 L792.5,228 L793.5,228 L793.5,229 L794.5,229 L794.5,230 L795.5,230 L795.5,229 L796.5,229 L796.5,232 L797.5,232 L797.5,230 L798.5,230 L798.5,232 L798.6,232 L798.6,334.9 L789.5,334.9Z M798.4,332.8 H799.8 V334.9 H798.4 Z M799.6,234 L800.6,234 L800.6,234 L801.6,234 L801.6,235.5 L802.6,235.5 L802.6,233 L803.6,233 L803.6,231 L804.6,231 L804.6,228.5 L805.6,228.5 L805.6,230 L805.9,230 L805.9,334.9 L799.6,334.9Z M805.7,332.8 H808.5 V334.9 H805.7 Z M808.3,229 L809.3,229 L809.3,232 L810.3,232 L810.3,228.5 L811.3,228.5 L811.3,230 L812.3,230 L812.3,228 L813.3,228 L813.3,228.5 L814.3,228.5 L814.3,230 L815.3,230 L815.3,228.5 L816.3,228.5 L816.3,235.5 L817.3,235.5 L817.3,229.5 L817.7,229.5 L817.7,334.9 L808.3,334.9Z M817.5,332.8 H819.4 V334.9 H817.5 Z M819.2,230 L820.2,230 L820.2,228.5 L821.2,228.5 L821.2,233 L822.2,233 L822.2,228 L823.2,228 L823.2,231 L824.2,231 L824.2,234 L825.2,234 L825.2,232 L826.2,232 L826.2,230 L827.2,230 L827.2,235.5 L828.2,235.5 L828.2,229 L828.6,229 L828.6,334.9 L819.2,334.9Z M828.4,229.9 L829.4,229.9 L829.4,229.9 L830.4,229.9 L830.4,229 L831.4,229 L831.4,230 L832.4,230 L832.4,229.1 L833.4,229.1 L833.4,229.4 L834.4,229.4 L834.4,229.9 L835.4,229.9 L835.4,228.6 L835.6,228.6 L835.6,238.8 L835.4,238.8 L835.4,237.9 L834.4,237.9 L834.4,237.8 L833.4,237.8 L833.4,236.1 L832.4,236.1 L832.4,241.1 L831.4,241.1 L831.4,235 L830.4,235 L830.4,235.7 L829.4,235.7 L829.4,237.7 L828.4,237.7Z M835.4,230.4 L836.4,230.4 L836.4,230.3 L837.3,230.3 L837.3,334.9 L835.4,334.9Z M837.1,228.3 L838.1,228.3 L838.1,228.4 L839.1,228.4 L839.1,228.7 L840.1,228.7 L840.1,228.5 L840.9,228.5 L840.9,234.7 L840.1,234.7 L840.1,234.2 L839.1,234.2 L839.1,235.5 L838.1,235.5 L838.1,235.3 L837.1,235.3Z M840.7,234 L841.7,234 L841.7,231 L842.7,231 L842.7,229.5 L843.7,229.5 L843.7,228 L844.7,228 L844.7,230 L845.7,230 L845.7,229.5 L846.7,229.5 L846.7,231 L847.7,231 L847.7,229 L848.7,229 L848.7,228 L848.9,228 L848.9,334.9 L840.7,334.9Z M848.7,332.8 H851.1 V334.9 H848.7 Z M850.9,233.4 L851.9,233.4 L851.9,233.5 L852.9,233.5 L852.9,233.5 L853.8,233.5 L853.8,334.9 L850.9,334.9Z M853.6,332.8 H855.9 V334.9 H853.6 Z M855.7,231.2 L856.7,231.2 L856.7,231.8 L857.7,231.8 L857.7,231.1 L858.7,231.1 L858.7,231.8 L859.6,231.8 L859.6,334.9 L855.7,334.9Z M859.4,332.8 H865.5 V334.9 H859.4 Z M865.3,230.4 L866.3,230.4 L866.3,230 L867.3,230 L867.3,230 L867.7,230 L867.7,334.9 L865.3,334.9Z M867.5,332.8 H877.6 V334.9 H867.5 Z M877.4,229.5 L878.4,229.5 L878.4,228.5 L879.4,228.5 L879.4,235.5 L880.4,235.5 L880.4,234 L881.4,234 L881.4,229 L882.4,229 L882.4,235.5 L883.4,235.5 L883.4,232 L884.4,232 L884.4,231 L884.7,231 L884.7,334.9 L877.4,334.9Z M884.5,332.8 H897.9 V334.9 H884.5 Z M897.7,278.7 L898.7,278.7 L898.7,278.5 L899.7,278.5 L899.7,334.9 L897.7,334.9Z M899.5,332.8 H903.2 V334.9 H899.5 Z M903,240.2 L904,240.2 L904,240.5 L905,240.5 L905,240 L906,240 L906,240.7 L907,240.7 L907,240.6 L907.4,240.6 L907.4,334.9 L903,334.9Z M907.2,332.8 H908.6 V334.9 H907.2 Z M908.4,230.5 L909.4,230.5 L909.4,230.4 L910.4,230.4 L910.4,230.7 L911.4,230.7 L911.4,230.5 L912.4,230.5 L912.4,230.9 L912.7,230.9 L912.7,334.9 L908.4,334.9Z M912.5,332.8 H930.7 V334.9 H912.5 Z M930.5,237.1 L931.5,237.1 L931.5,237.3 L932.5,237.3 L932.5,236.5 L933.2,236.5 L933.2,334.9 L930.5,334.9Z M933,332.8 H936.6 V334.9 H933 Z M936.4,228.5 L937.4,228.5 L937.4,228 L938.4,228 L938.4,228 L939.4,228 L939.4,229 L940.4,229 L940.4,231 L941.4,231 L941.4,228.5 L942.4,228.5 L942.4,232 L943.4,232 L943.4,233 L944.4,233 L944.4,234 L945.4,234 L945.4,228 L946.4,228 L946.4,228 L947.4,228 L947.4,234 L948.4,234 L948.4,229.5 L949.4,229.5 L949.4,233 L949.5,233 L949.5,334.9 L936.4,334.9Z M949.3,332.8 H953.5 V334.9 H949.3 Z M953.3,228.8 L954.3,228.8 L954.3,229 L955.3,229 L955.3,228.6 L956.3,228.6 L956.3,229.4 L957.3,229.4 L957.3,229.4 L957.7,229.4 L957.7,334.9 L953.3,334.9Z M957.5,332.8 H966.1 V334.9 H957.5 Z M965.9,234 L966.9,234 L966.9,228.5 L967.9,228.5 L967.9,233 L968.9,233 L968.9,230 L969.9,230 L969.9,228.5 L970.9,228.5 L970.9,230 L971.2,230 L971.2,334.9 L965.9,334.9Z M971,332.8 H982.1 V334.9 H971 Z M981.9,231.7 L982.9,231.7 L982.9,231.2 L983.9,231.2 L983.9,231.7 L984.9,231.7 L984.9,232 L985.9,232 L985.9,231.5 L986.7,231.5 L986.7,334.9 L981.9,334.9Z M986.5,332.8 H990.2 V334.9 H986.5 Z M990,228.5 L991,228.5 L991,233 L992,233 L992,230 L993,230 L993,228 L994,228 L994,235.5 L995,235.5 L995,229.5 L996,229.5 L996,228.5 L997,228.5 L997,235.5 L998,235.5 L998,229 L999,229 L999,231 L1000,231 L1000,230 L1001,230 L1001,230 L1002,230 L1002,235.5 L1003,235.5 L1003,235.5 L1004,235.5 L1004,229 L1005,229 L1005,228 L1006,228 L1006,233 L1006.5,233 L1006.5,334.9 L990,334.9Z M1006.3,332.8 H1024.1 V334.9 H1006.3 Z M1023.9,229.6 L1024.9,229.6 L1024.9,229.8 L1025.9,229.8 L1025.9,230.2 L1026.8,230.2 L1026.8,334.9 L1023.9,334.9Z M1026.6,332.8 H1031.8 V334.9 H1026.6 Z M1031.6,231.7 L1032.6,231.7 L1032.6,231.3 L1033.6,231.3 L1033.6,231.5 L1034.6,231.5 L1034.6,231.5 L1035.6,231.5 L1035.6,231.5 L1036.4,231.5 L1036.4,334.9 L1031.6,334.9Z M1036.2,332.8 H1045.8 V334.9 H1036.2 Z M1045.6,234 L1046.6,234 L1046.6,229.5 L1047.6,229.5 L1047.6,230 L1048.6,230 L1048.6,228.5 L1049.6,228.5 L1049.6,233 L1050.6,233 L1050.6,228 L1051.6,228 L1051.6,230 L1052.6,230 L1052.6,233 L1053.6,233 L1053.6,228.5 L1054.6,228.5 L1054.6,234 L1055.6,234 L1055.6,233 L1056.6,233 L1056.6,230 L1057.6,230 L1057.6,232 L1058.6,232 L1058.6,229.5 L1059.6,229.5 L1059.6,229.5 L1060.6,229.5 L1060.6,228.5 L1061.6,228.5 L1061.6,235.5 L1062.6,235.5 L1062.6,228.5 L1063.6,228.5 L1063.6,229 L1064.6,229 L1064.6,234 L1065.6,234 L1065.6,230 L1066.6,230 L1066.6,231 L1067.6,231 L1067.6,229 L1068.6,229 L1068.6,235.5 L1069.6,235.5 L1069.6,234 L1070.6,234 L1070.6,230 L1071.6,230 L1071.6,228.5 L1072.6,228.5 L1072.6,231 L1073.6,231 L1073.6,229.5 L1074.6,229.5 L1074.6,233 L1075.6,233 L1075.6,233 L1076.6,233 L1076.6,232 L1077.6,232 L1077.6,228 L1078.6,228 L1078.6,229 L1079.6,229 L1079.6,228 L1080.6,228 L1080.6,233 L1081.6,233 L1081.6,233 L1082.6,233 L1082.6,232 L1083.6,232 L1083.6,230 L1084.6,230 L1084.6,229 L1085.6,229 L1085.6,232 L1086.6,232 L1086.6,231 L1087.6,231 L1087.6,232 L1088.6,232 L1088.6,231 L1089.6,231 L1089.6,334.9 L1045.6,334.9Z M1089.4,332.8 H1095.2 V334.9 H1089.4 Z M1095,231 L1096,231 L1096,228 L1097,228 L1097,231 L1098,231 L1098,231 L1099,231 L1099,232 L1100,232 L1100,228.5 L1101,228.5 L1101,229.5 L1102,229.5 L1102,228 L1103,228 L1103,230 L1104,230 L1104,230 L1105,230 L1105,231 L1105.6,231 L1105.6,334.9 L1095,334.9Z M1105.4,332.8 H1107.2 V334.9 H1105.4 Z M1107,232 L1108,232 L1108,232 L1109,232 L1109,235.5 L1110,235.5 L1110,228.5 L1111,228.5 L1111,231 L1112,231 L1112,232 L1113,232 L1113,230 L1114,230 L1114,228 L1115,228 L1115,230 L1116,230 L1116,228.5 L1117,228.5 L1117,228 L1118,228 L1118,230 L1118.2,230 L1118.2,334.9 L1107,334.9Z M1194,230.2 L1195,230.2 L1195,230.3 L1196,230.3 L1196,230.5 L1196.9,230.5 L1196.9,334.9 L1194,334.9Z M1196.7,229.9 L1197.7,229.9 L1197.7,229.8 L1198.7,229.8 L1198.7,228.3 L1199.7,228.3 L1199.7,229.4 L1200.7,229.4 L1200.7,229 L1201,229 L1201,236.1 L1200.7,236.1 L1200.7,246.6 L1199.7,246.6 L1199.7,237.6 L1198.7,237.6 L1198.7,237.6 L1197.7,237.6 L1197.7,237 L1196.7,237Z M1200.8,232 L1201.8,232 L1201.8,229.5 L1202.8,229.5 L1202.8,230 L1203.8,230 L1203.8,233 L1204.8,233 L1204.8,234 L1205.8,234 L1205.8,232 L1206.8,232 L1206.8,228.5 L1207.8,228.5 L1207.8,229 L1208.8,229 L1208.8,229 L1209.8,229 L1209.8,228.5 L1210.8,228.5 L1210.8,229.5 L1211.8,229.5 L1211.8,234 L1212.8,234 L1212.8,233 L1212.9,233 L1212.9,334.9 L1200.8,334.9Z M1212.7,228.8 L1213.7,228.8 L1213.7,228.6 L1214.7,228.6 L1214.7,228.9 L1215,228.9 L1215,238.1 L1214.7,238.1 L1214.7,236.7 L1213.7,236.7 L1213.7,238.3 L1212.7,238.3Z M1214.8,228.7 L1215.8,228.7 L1215.8,228.4 L1216.8,228.4 L1216.8,228.4 L1217.7,228.4 L1217.7,334.9 L1214.8,334.9Z M1217.5,228.8 L1218.5,228.8 L1218.5,228.4 L1219.5,228.4 L1219.5,228.6 L1220.5,228.6 L1220.5,229 L1220.8,229 L1220.8,240.8 L1220.5,240.8 L1220.5,239 L1219.5,239 L1219.5,238.6 L1218.5,238.6 L1218.5,235.9 L1217.5,235.9Z M1220.6,229 L1221.6,229 L1221.6,228 L1222.6,228 L1222.6,232 L1223.6,232 L1223.6,233 L1224.6,233 L1224.6,235.5 L1225.6,235.5 L1225.6,233 L1226.6,233 L1226.6,228 L1227.4,228 L1227.4,334.9 L1220.6,334.9Z M1227.2,229.9 L1228.2,229.9 L1228.2,229.6 L1229.2,229.6 L1229.2,228.4 L1230.2,228.4 L1230.2,229.8 L1231.2,229.8 L1231.2,228.4 L1231.5,228.4 L1231.5,246.4 L1231.2,246.4 L1231.2,238.1 L1230.2,238.1 L1230.2,239.3 L1229.2,239.3 L1229.2,236.1 L1228.2,236.1 L1228.2,237.2 L1227.2,237.2Z M1231.3,230 L1232.3,230 L1232.3,234 L1233.3,234 L1233.3,232 L1234.3,232 L1234.3,228.5 L1235.3,228.5 L1235.3,228.5 L1236.3,228.5 L1236.3,228.5 L1237.1,228.5 L1237.1,334.9 L1231.3,334.9Z M1236.9,332.8 H1238.2 V334.9 H1236.9 Z M1238,234 L1239,234 L1239,235.5 L1240,235.5 L1240,229.5 L1241,229.5 L1241,232 L1242,232 L1242,230 L1243,230 L1243,229.5 L1243.8,229.5 L1243.8,334.9 L1238,334.9Z M1243.6,332.8 H1244.6 V334.9 H1243.6 Z M1244.4,228 L1245.4,228 L1245.4,228.3 L1246.4,228.3 L1246.4,228.5 L1247.4,228.5 L1247.4,229 L1247.7,229 L1247.7,334.9 L1244.4,334.9Z M1247.5,332.8 H1250.8 V334.9 H1247.5 Z M1250.6,231.5 L1251.6,231.5 L1251.6,231.2 L1252.6,231.2 L1252.6,231.2 L1253.6,231.2 L1253.6,232 L1254,232 L1254,334.9 L1250.6,334.9Z M1253.8,332.8 H1255.2 V334.9 H1253.8 Z M1255,232.1 L1256,232.1 L1256,232.2 L1257,232.2 L1257,232.9 L1257.4,232.9 L1257.4,334.9 L1255,334.9Z M1257.2,332.8 H1264.3 V334.9 H1257.2 Z M1264.1,228.5 L1265.1,228.5 L1265.1,230 L1266.1,230 L1266.1,229.5 L1267.1,229.5 L1267.1,232 L1268.1,232 L1268.1,231 L1269.1,231 L1269.1,229.5 L1269.5,229.5 L1269.5,334.9 L1264.1,334.9Z M1269.3,332.8 H1273 V334.9 H1269.3 Z M1272.8,228 L1273.8,228 L1273.8,231 L1274.8,231 L1274.8,232 L1275.8,232 L1275.8,231 L1276.8,231 L1276.8,232 L1277.8,232 L1277.8,229.5 L1278.8,229.5 L1278.8,228 L1279.8,228 L1279.8,230 L1280.8,230 L1280.8,234 L1281.8,234 L1281.8,228.5 L1282.8,228.5 L1282.8,229.5 L1283.8,229.5 L1283.8,233 L1284.8,233 L1284.8,229.5 L1284.9,229.5 L1284.9,334.9 L1272.8,334.9Z M1284.7,228.6 L1285.7,228.6 L1285.7,229.9 L1286.7,229.9 L1286.7,229 L1287.7,229 L1287.7,228.9 L1288.7,228.9 L1288.7,228.3 L1289,228.3 L1289,233.2 L1288.7,233.2 L1288.7,234.3 L1287.7,234.3 L1287.7,236.8 L1286.7,236.8 L1286.7,237.1 L1285.7,237.1 L1285.7,236.9 L1284.7,236.9Z M1288.8,232 H1291.2 V334.9 H1288.8 Z M1291,229.9 L1292,229.9 L1292,229.5 L1293,229.5 L1293,228.9 L1293.3,228.9 L1293.3,240.4 L1293,240.4 L1293,239.8 L1292,239.8 L1292,239.4 L1291,239.4Z M1293.1,232 H1297 V334.9 H1293.1 Z M1296.8,229 L1297.8,229 L1297.8,228.9 L1298.8,228.9 L1298.8,228.4 L1299.8,228.4 L1299.8,229 L1300.8,229 L1300.8,229.3 L1301.8,229.3 L1301.8,228.9 L1302.8,228.9 L1302.8,228.6 L1303,228.6 L1303,233.4 L1302.8,233.4 L1302.8,235.9 L1301.8,235.9 L1301.8,235.5 L1300.8,235.5 L1300.8,235.8 L1299.8,235.8 L1299.8,236.9 L1298.8,236.9 L1298.8,236.1 L1297.8,236.1 L1297.8,235.7 L1296.8,235.7Z M1302.8,232 H1366.1 V334.9 H1302.8 Z M1365.9,332.8 H1368.7 V334.9 H1365.9 Z M1368.5,232 H1371 V334.9 H1368.5 Z M1370.8,332.8 H1372.6 V334.9 H1370.8 Z M1372.4,232 H1388.8 V334.9 H1372.4 Z M1388.6,228.7 L1389.6,228.7 L1389.6,228.2 L1390.6,228.2 L1390.6,229.9 L1391.6,229.9 L1391.6,229.9 L1392.6,229.9 L1392.6,229 L1393.6,229 L1393.6,229.6 L1394.4,229.6 L1394.4,238.4 L1393.6,238.4 L1393.6,238.6 L1392.6,238.6 L1392.6,240.7 L1391.6,240.7 L1391.6,238 L1390.6,238 L1390.6,239.8 L1389.6,239.8 L1389.6,240.3 L1388.6,240.3Z M1394.2,232 H1407.7 V334.9 H1394.2 Z M1407.5,332.8 H1410.8 V334.9 H1407.5 Z M1410.6,232 H1418.8 V334.9 H1410.6 Z M1418.6,228.9 L1419.6,228.9 L1419.6,228.6 L1420.6,228.6 L1420.6,230 L1421.6,230 L1421.6,228.4 L1422.6,228.4 L1422.6,229 L1423.4,229 L1423.4,235.6 L1422.6,235.6 L1422.6,234.6 L1421.6,234.6 L1421.6,237.7 L1420.6,237.7 L1420.6,243 L1419.6,243 L1419.6,242.3 L1418.6,242.3Z M1423.2,232 H1431.4 V334.9 H1423.2 Z M1434.3,232 H1440.6 V334.9 H1434.3 Z M1440.4,332.8 H1444.2 V334.9 H1440.4 Z M1444,232 H1451.2 V334.9 H1444 Z M1451,332.8 H1453.3 V334.9 H1451 Z M1453.1,232 H1481.7 V334.9 H1453.1 Z M1485.4,232 H1493.6 V334.9 H1485.4 Z M1513.8,232 H1516.8 V334.9 H1513.8 Z M1516.6,332.8 H1519.4 V334.9 H1516.6 Z M1519.2,232 H1541.9 V334.9 H1519.2 Z M1548.2,232 H1556.4 V334.9 H1548.2 Z M1556.2,332.8 H1557.6 V334.9 H1556.2 Z M1557.4,232 H1560.3 V334.9 H1557.4 Z M1563.7,232 H1567.8 V334.9 H1563.7 Z M1129.8,232 H1131.8 V328.5 H1129.8 Z M1142.8,232 H1144.6 V276 H1142.8 Z M1170.4,232 H1172.4 V334 H1170.4 Z M1260.3,314 H1263.2 V334.8 H1260.3 Z M1498.2,232 H1499.9 V316 H1498.2 Z M1431.4,232 H1434.3 V318 H1431.4 Z M563,232 H565.2 V253 H563 Z M930.5,52.7 H933.2 V238.5 H930.5 Z M981.1,52.7 H983.3 V238.5 H981.1 Z M983.3,96.7 H985.5 V238.5 H983.3 Z M990.3,52.7 H993 V238.5 H990.3 Z M992.6,77.7 H994 V238.5 H992.6 Z M998.1,179.7 H1000.4 V238.5 H998.1 Z M1049.4,52.7 H1051.7 V238.5 H1049.4 Z M1058.3,52.7 H1060.7 V238.5 H1058.3 Z M1278.4,64 H1280.8 V238.5 H1278.4 Z M1282.2,52.7 H1290 V238.5 H1282.2 Z M1294.3,52.7 H1296.7 V238.5 H1294.3 Z M1311.3,59.7 H1312.8 V238.5 H1311.3 Z M1312.8,52.7 H1326.7 V238.5 H1312.8 Z M1331.1,52.7 H1334 V238.5 H1331.1 Z M1340.3,52.7 H1386.7 V238.5 H1340.3 Z M1393,52.7 H1436.9 V238.5 H1393 Z M1444.2,52.7 H1472.8 V238.5 H1444.2 Z M1473.6,52.7 H1504.6 V238.5 H1473.6 Z M1513.8,52.7 H1567.8 V238.5 H1513.8 Z M1326.6,92.7 H1328.7 V238.5 H1326.6 Z M1328.7,175.7 H1331.1 V238.5 H1328.7 Z M1335.2,93.7 H1338 V238.5 H1335.2 Z M1338,136.7 H1340.3 V238.5 H1338 Z M1305.6,175.7 H1308.4 V238.5 H1305.6 Z M1386.7,71.7 H1387.9 V238.5 H1386.7 Z M981,121 H986 V240 H981 Z M981,205 H987.5 V240 H981 Z M990.3,150 H994 V240 H990.3 Z M1504.2,52.8 H1513.8 V55.4 H1504.2 Z M1276,227.5 H1290 V237.5 H1276 Z M1293.6,227.5 H1388.6 V237.5 H1293.6 Z M1391.2,227.5 H1481.2 V237.5 H1391.2 Z M1484.8,227.5 H1493.9 V237.5 H1484.8 Z M1497.5,227.5 H1500.2 V237.5 H1497.5 Z M1514.7,227.5 H1560 V237.5 H1514.7 Z M1562.8,227.5 H1567.8 V237.5 H1562.8 Z" fill="#1f77b4" stroke="none"/>
<rect x="1280.4" y="135" width="0.8" height="52" fill="#ffb2b2" fill-opacity="0.7"/>
<rect x="1284.7" y="152" width="0.8" height="80" fill="#ffb2b2" fill-opacity="0.7"/>
<rect x="1321.9" y="74" width="0.8" height="158" fill="#ffb2b2" fill-opacity="0.5"/>
<rect x="1334.1" y="53" width="0.8" height="179" fill="#ffb2b2" fill-opacity="0.6"/>
<rect x="1342" y="174" width="0.8" height="58" fill="#ffb2b2" fill-opacity="0.6"/>
<rect x="1362" y="53" width="0.8" height="27" fill="#ffb2b2" fill-opacity="0.5"/>
<rect x="1366.8" y="170" width="0.8" height="62" fill="#ffb2b2" fill-opacity="0.6"/>
<rect x="1384.1" y="135" width="0.8" height="97" fill="#ffb2b2" fill-opacity="0.5"/>
<rect x="1398.1" y="135" width="0.8" height="97" fill="#ffb2b2" fill-opacity="0.5"/>
<rect x="1408.2" y="146" width="1.5" height="39" fill="#ffb2b2" fill-opacity="0.9"/>
<rect x="1408.6" y="185" width="0.8" height="47" fill="#ffb2b2" fill-opacity="0.5"/>
<rect x="1413.2" y="53" width="0.8" height="27" fill="#ffb2b2" fill-opacity="0.5"/>
<rect x="1413.2" y="135" width="0.8" height="97" fill="#ffb2b2" fill-opacity="0.5"/>
<rect x="1420.4" y="148" width="1.6" height="187" fill="#ffb2b2" fill-opacity="0.9"/>
<rect x="1425.1" y="135" width="0.8" height="97" fill="#ffb2b2" fill-opacity="0.5"/>
<rect x="1421.8" y="80" width="0.8" height="55" fill="#ffb2b2" fill-opacity="0.6"/>
<rect x="1426.7" y="53" width="0.8" height="179" fill="#ffb2b2" fill-opacity="0.4"/>
<rect x="1433" y="132" width="1.6" height="100" fill="#ffb2b2" fill-opacity="1"/>
<rect x="1451.2" y="92" width="1.5" height="243" fill="#ffb2b2" fill-opacity="1"/>
<rect x="1473.6" y="53" width="0.8" height="179" fill="#ffb2b2" fill-opacity="0.5"/>
<rect x="1483.7" y="56" width="2.5" height="279" fill="#ffb2b2" fill-opacity="1"/>
<rect x="1481" y="189" width="3.6" height="146" fill="#ffb2b2" fill-opacity="1"/>
<rect x="1487.6" y="54" width="1.2" height="178" fill="#ffb2b2" fill-opacity="0.9"/>
<rect x="1499.9" y="91" width="0.8" height="44" fill="#ffb2b2" fill-opacity="0.9"/>
<rect x="1494.5" y="189" width="2.8" height="146" fill="#ffb2b2" fill-opacity="1"/>
<rect x="1500.1" y="120" width="4.6" height="120" fill="#ffb2b2" fill-opacity="1"/>
<rect x="1517.1" y="58" width="1.0" height="277" fill="#ffb2b2" fill-opacity="0.8"/>
<rect x="1526.9" y="135" width="0.8" height="97" fill="#ffb2b2" fill-opacity="0.4"/>
<rect x="1530.2" y="135" width="0.8" height="26" fill="#ffb2b2" fill-opacity="0.6"/>
<rect x="1536.2" y="177" width="0.8" height="55" fill="#ffb2b2" fill-opacity="0.6"/>
<rect x="1542.1" y="165" width="0.8" height="67" fill="#ffb2b2" fill-opacity="0.6"/>
<rect x="1546.9" y="63" width="1.0" height="272" fill="#ffb2b2" fill-opacity="0.8"/>
<rect x="1549.8" y="166" width="0.8" height="66" fill="#ffb2b2" fill-opacity="0.6"/>
<rect x="1556.1" y="198" width="0.8" height="34" fill="#ffb2b2" fill-opacity="0.6"/>
<rect x="1560.5" y="160" width="2.0" height="175" fill="#ffb2b2" fill-opacity="1"/>
<rect x="1562.1" y="104" width="0.8" height="56" fill="#ffb2b2" fill-opacity="0.7"/>
<rect x="1342.6" y="300" width="0.8" height="35" fill="#ffb2b2" fill-opacity="0.5"/>
<rect x="1346.6" y="300" width="0.8" height="35" fill="#ffb2b2" fill-opacity="0.5"/>
<rect x="1378.7" y="311" width="1.6" height="24" fill="#ffb2b2" fill-opacity="0.8"/>
<rect x="1384.1" y="240" width="0.8" height="95" fill="#ffb2b2" fill-opacity="0.5"/>
<rect x="1397.6" y="240" width="0.8" height="95" fill="#ffb2b2" fill-opacity="0.4"/>
<rect x="1413.6" y="240" width="0.8" height="95" fill="#ffb2b2" fill-opacity="0.5"/>
<rect x="1437.8" y="240" width="0.8" height="95" fill="#ffb2b2" fill-opacity="0.5"/>
<rect x="1467.3" y="240" width="0.8" height="95" fill="#ffb2b2" fill-opacity="0.5"/>
<rect x="1475.1" y="240" width="0.8" height="95" fill="#ffb2b2" fill-opacity="0.5"/>
<rect x="1486.8" y="240" width="0.8" height="95" fill="#ffb2b2" fill-opacity="0.6"/>
<rect x="1523.6" y="240" width="0.8" height="95" fill="#ffb2b2" fill-opacity="0.6"/>
<rect x="1536.1" y="240" width="0.8" height="95" fill="#ffb2b2" fill-opacity="0.5"/>
<rect x="1539.1" y="240" width="0.8" height="95" fill="#ffb2b2" fill-opacity="0.5"/>
<rect x="1310.1" y="240" width="0.8" height="95" fill="#ffb2b2" fill-opacity="0.4"/>
<rect x="1329.6" y="240" width="0.8" height="95" fill="#ffb2b2" fill-opacity="0.4"/>
<rect x="509.4" y="322" width="1.0" height="13" fill="#ffb2b2" fill-opacity="0.7"/>
<rect x="1063" y="240" width="1.0" height="86" fill="#ffb2b2" fill-opacity="0.9"/>
<rect x="1076.1" y="240" width="0.9" height="95" fill="#ffb2b2" fill-opacity="0.5"/>
<line x1="158" y1="259.1" x2="1567.4" y2="259.1" stroke="#008000" stroke-width="2.1"/>
<line x1="158" y1="225.9" x2="1567.4" y2="225.9" stroke="#008000" stroke-width="2.1"/>
<rect x="87.5" y="40.5" width="1550" height="308" fill="none" stroke="#000" stroke-width="1.1"/>
<line x1="158.4" y1="348.5" x2="158.4" y2="353.5" stroke="#000" stroke-width="1.1"/>
<text x="158.4" y="371.1" font-size="17.4" text-anchor="middle" textLength="21.8" lengthAdjust="spacingAndGlyphs">Y0</text>
<line x1="412.6" y1="348.5" x2="412.6" y2="353.5" stroke="#000" stroke-width="1.1"/>
<text x="412.6" y="371.1" font-size="17.4" text-anchor="middle" textLength="21.8" lengthAdjust="spacingAndGlyphs">Y1</text>
<line x1="666.8" y1="348.5" x2="666.8" y2="353.5" stroke="#000" stroke-width="1.1"/>
<text x="666.8" y="371.1" font-size="17.4" text-anchor="middle" textLength="21.8" lengthAdjust="spacingAndGlyphs">Y2</text>
<line x1="921" y1="348.5" x2="921" y2="353.5" stroke="#000" stroke-width="1.1"/>
<text x="921" y="371.1" font-size="17.4" text-anchor="middle" textLength="21.8" lengthAdjust="spacingAndGlyphs">Y3</text>
<line x1="1175.2" y1="348.5" x2="1175.2" y2="353.5" stroke="#000" stroke-width="1.1"/>
<text x="1175.2" y="371.1" font-size="17.4" text-anchor="middle" textLength="21.8" lengthAdjust="spacingAndGlyphs">Y4</text>
<line x1="1429.4" y1="348.5" x2="1429.4" y2="353.5" stroke="#000" stroke-width="1.1"/>
<text x="1429.4" y="371.1" font-size="17.4" text-anchor="middle" textLength="21.8" lengthAdjust="spacingAndGlyphs">Y5</text>
<line x1="82.5" y1="56.4" x2="87.5" y2="56.4" stroke="#000" stroke-width="1.1"/>
<text x="77" y="63.2" font-size="17.4" text-anchor="end" textLength="28.6" lengthAdjust="spacingAndGlyphs">6.0</text>
<line x1="82.5" y1="124.1" x2="87.5" y2="124.1" stroke="#000" stroke-width="1.1"/>
<text x="77" y="130.9" font-size="17.4" text-anchor="end" textLength="28.6" lengthAdjust="spacingAndGlyphs">4.0</text>
<line x1="82.5" y1="191.7" x2="87.5" y2="191.7" stroke="#000" stroke-width="1.1"/>
<text x="77" y="198.5" font-size="17.4" text-anchor="end" textLength="28.6" lengthAdjust="spacingAndGlyphs">2.0</text>
<line x1="82.5" y1="259.4" x2="87.5" y2="259.4" stroke="#000" stroke-width="1.1"/>
<text x="77" y="266.2" font-size="17.4" text-anchor="end" textLength="28.6" lengthAdjust="spacingAndGlyphs">0.0</text>
<line x1="82.5" y1="327.1" x2="87.5" y2="327.1" stroke="#000" stroke-width="1.1"/>
<text x="77" y="333.9" font-size="17.4" text-anchor="end" textLength="33.4" lengthAdjust="spacingAndGlyphs">-2.0</text>
<text x="516.7" y="32.2" font-size="23.2" text-anchor="start" textLength="690.3" lengthAdjust="spacingAndGlyphs">Average gearbox A1 planet NRE bearing temperature signal 2</text>
<text x="726.4" y="398.2" font-size="21.8" text-anchor="start" textLength="273.2" lengthAdjust="spacingAndGlyphs">Years since reference (Y0)</text>
<g transform="translate(32.3,322.4) rotate(-90)"><text x="0" y="0" font-size="21.8" text-anchor="start" textLength="255.2" lengthAdjust="spacingAndGlyphs">Normalized temperature</text></g>
<rect x="96.7" y="49.7" width="194" height="86" rx="3.3" ry="3.3" fill="#fff" fill-opacity="0.8" stroke="#cccccc" stroke-width="1.1"/>
<line x1="103.9" y1="63.9" x2="140" y2="63.9" stroke="#008000" stroke-width="2.1"/>
<line x1="103.9" y1="90.9" x2="140" y2="90.9" stroke="#008000" stroke-width="2.1"/>
<rect x="104.4" y="111.8" width="35.4" height="12.7" fill="#ffb2b2" stroke="#ff8f8f" stroke-width="1.1"/>
<text x="154" y="70.6" font-size="18.9" text-anchor="start" textLength="129" lengthAdjust="spacingAndGlyphs">0 norm. temp.</text>
<text x="154" y="97.6" font-size="18.9" text-anchor="start" textLength="129" lengthAdjust="spacingAndGlyphs">1 norm. temp.</text>
<text x="154.2" y="124.7" font-size="18.9" text-anchor="start" textLength="109.6" lengthAdjust="spacingAndGlyphs">sensor error</text>
</svg></body></html>
